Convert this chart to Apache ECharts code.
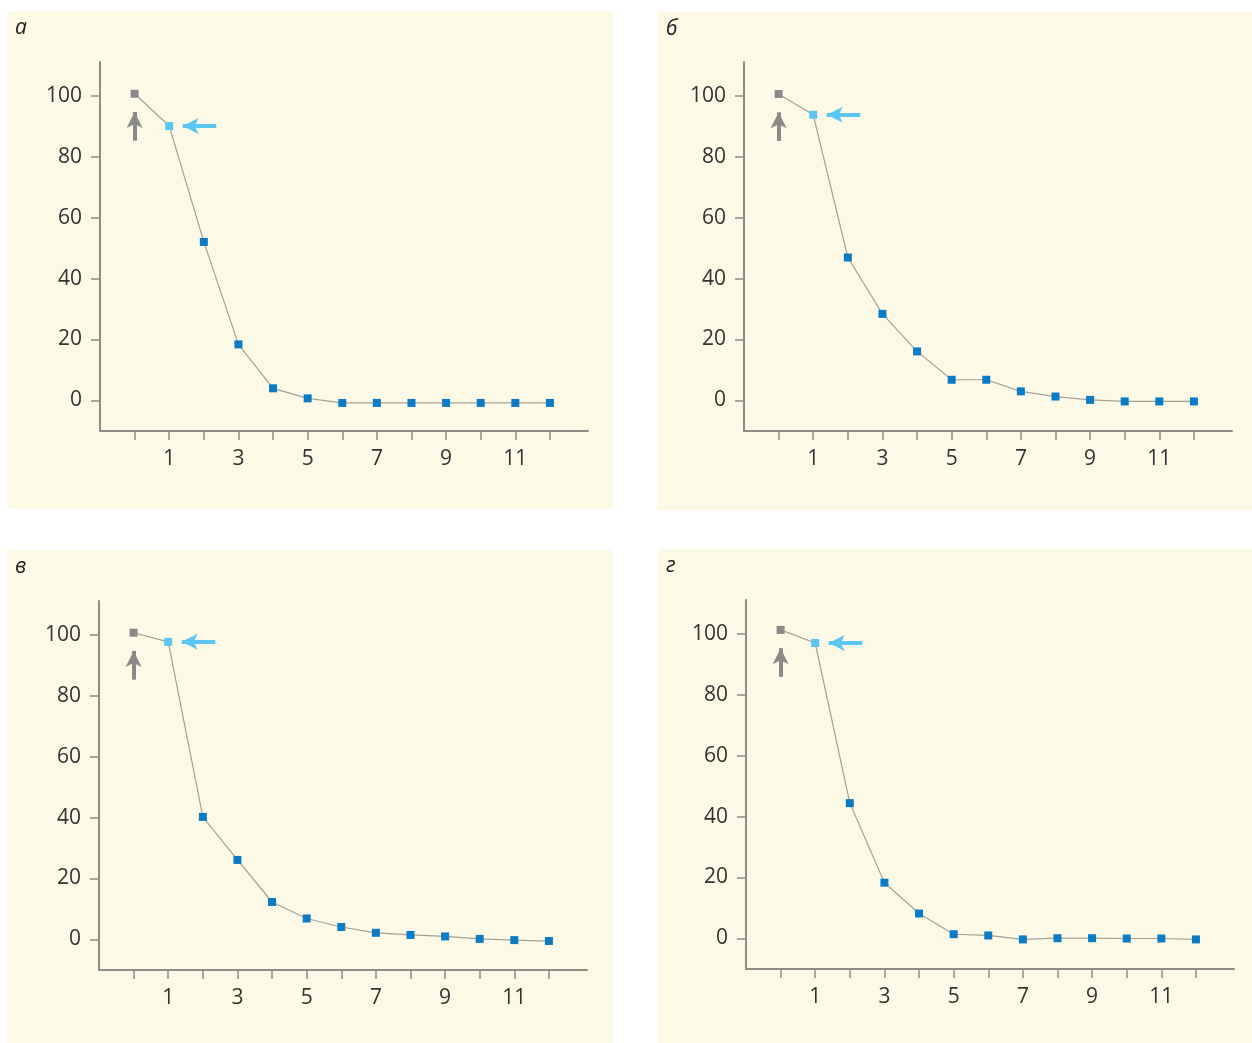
<!DOCTYPE html>
<html>
<head>
<meta charset="utf-8">
<script src="https://cdn.jsdelivr.net/npm/echarts@6/dist/echarts.min.js"></script>
<style>
  html, body { margin: 0; padding: 0; background: #ffffff; }
  body { width: 1252px; height: 1043px; position: relative; overflow: hidden; }
  .panel { position: absolute; background: #fdf9e7; }
</style>
</head>
<body>
<div class="panel" id="pa" style="left:7px;top:11px;width:606px;height:498px"></div>
<div class="panel" id="pb" style="left:658px;top:12px;width:594px;height:498px"></div>
<div class="panel" id="pv" style="left:7px;top:550px;width:606px;height:493px"></div>
<div class="panel" id="pg" style="left:658px;top:549px;width:594px;height:494px"></div>
<script>
// x positions (steps) and values
const steps = [0, 1, 2, 3, 4, 5, 6, 7, 8, 9, 10, 11, 12];
const valuesA = [100.6, 90, 52, 18.4, 4, 0.7, -0.8, -0.8, -0.8, -0.8, -0.8, -0.8, -0.8];
const valuesB = [100.5, 93.7, 46.9, 28.4, 16.1, 6.8, 6.8, 3.0, 1.3, 0.2, -0.3, -0.3, -0.3];
const valuesV = [100.6, 97.6, 40.2, 26.1, 12.3, 6.9, 4.1, 2.2, 1.5, 1.0, 0.2, -0.2, -0.5];
const valuesG = [101.2, 96.9, 44.4, 18.3, 8.2, 1.4, 1.0, -0.3, 0.1, 0.1, 0, 0, -0.3];
const yTicks = [0, 20, 40, 60, 80, 100];
const xLabels = [1, 3, 5, 7, 9, 11];
const panelNames = ['а', 'б', 'в', 'г'];

const panels = [
  { id: 'pa', name: panelNames[0], values: valuesA, left: 93, top: 51 },
  { id: 'pb', name: panelNames[1], values: valuesB, left: 86, top: 50 },
  { id: 'pv', name: panelNames[2], values: valuesV, left: 92, top: 51 },
  { id: 'pg', name: panelNames[3], values: valuesG, left: 88, top: 51 }
];

const axisColor = '#8f8c86';
const textColor = '#333333';
const blue = '#0b7bc5';
const cyan = '#5cc6f2';
const grey = '#8a8a8a';

function buildOption(p) {
  const data = steps.map((s, i) => {
    const item = { value: [s, p.values[i]] };
    if (i === 0) item.itemStyle = { color: grey };
    if (i === 1) item.itemStyle = { color: cyan };
    return item;
  });
  const v0 = p.values[0];
  const v1 = p.values[1];
  return {
    animation: false,
    title: {
      text: p.name,
      left: 3,
      top: 2,
      textStyle: { fontFamily: 'Open Sans', fontStyle: 'italic', fontWeight: 'normal', fontSize: 21, color: '#222' }
    },
    grid: { left: p.left, top: p.top, width: 488, height: 369 },
    xAxis: {
      type: 'value',
      min: -1,
      max: 13.1,
      splitLine: { show: false },
      axisLine: { onZero: false, lineStyle: { color: axisColor, width: 2 } },
      axisTick: { length: 9, customValues: steps, lineStyle: { color: axisColor, width: 1.5 } },
      axisLabel: { customValues: xLabels, margin: 18, fontFamily: 'Open Sans', fontSize: 21, color: textColor }
    },
    yAxis: {
      type: 'value',
      min: -10,
      max: 111,
      splitLine: { show: false },
      axisLine: { show: true, onZero: false, lineStyle: { color: axisColor, width: 2 } },
      axisTick: { show: true, length: 9, customValues: yTicks, lineStyle: { color: axisColor, width: 1.5 } },
      axisLabel: { customValues: yTicks, margin: 18, fontFamily: 'Open Sans', fontSize: 21, color: textColor }
    },
    series: [{
      type: 'line',
      data: data,
      symbol: 'rect',
      symbolSize: 8,
      itemStyle: { color: blue },
      lineStyle: { color: '#a5a198', width: 1.2 },
      emphasis: { disabled: true },
      markLine: {
        silent: true,
        symbol: ['none', 'arrow'],
        symbolSize: [12, 16],
        label: { show: false },
        emphasis: { disabled: true },
        data: [
          [
            { coord: [0, v0 - 15.4], lineStyle: { color: grey, width: 4, type: 'solid' } },
            { coord: [0, v0 - 6] }
          ],
          [
            { coord: [2.36, v1], lineStyle: { color: cyan, width: 4, type: 'solid' } },
            { coord: [1.39, v1] }
          ]
        ]
      }
    }]
  };
}

panels.forEach(p => {
  const chart = echarts.init(document.getElementById(p.id), null, { renderer: 'canvas' });
  chart.setOption(buildOption(p));
});
</script>
</body>
</html>
